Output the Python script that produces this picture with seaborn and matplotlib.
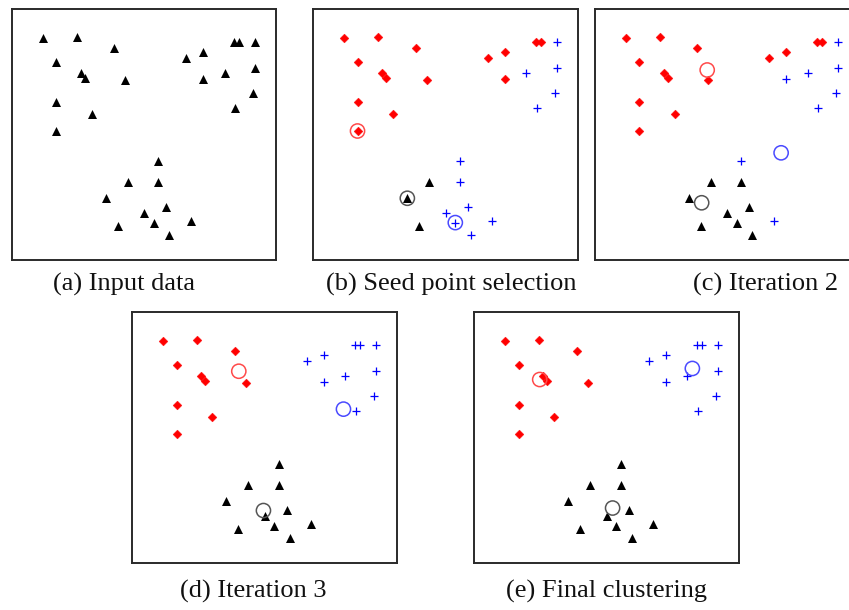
import pandas as pd
import seaborn as sns
import matplotlib.pyplot as plt

sns.set_style('white')
plt.rcParams['font.family'] = ['Liberation Serif', 'DejaVu Serif']

# the same 30 points in every panel (frame = 0..100 on both axes)
x_pts = [11.7, 24.6, 38.8, 16.8, 26.2, 27.5, 42.9, 16.8, 30.3, 16.8,
         66.0, 72.4, 84.2, 86.1, 92.1, 92.1, 80.5, 72.4, 91.2, 84.5,
         55.4, 43.8, 55.4, 35.6, 58.4, 50.1, 53.7, 40.0, 67.7, 59.5]
y_pts = [88.3, 89.0, 84.3, 79.0, 74.4, 72.4, 71.7, 63.1, 58.2, 51.4,
         80.3, 82.7, 87.0, 87.0, 87.0, 76.4, 74.4, 72.1, 66.4, 60.7,
         39.4, 31.2, 31.2, 24.6, 21.2, 18.9, 14.9, 13.5, 15.5, 9.8]

# cluster label of each point per panel (r = red, b = blue, k = black)
labels_a = list("kkkkkkkkkkkkkkkkkkkkkkkkkkkkkk")
labels_b = list("rrrrrrrrrrrrrrbbbrbbbkbkbbbkbb")
labels_c = list("rrrrrrrrrrrrrrbbbbbbbkkkkkkkbk")
labels_d = list("rrrrrrrrrrbbbbbbbbbbkkkkkkkkkk")
labels_e = list("rrrrrrrrrrbbbbbbbbbbkkkkkkkkkk")

# cluster centres (open circles)
centers_b = {'r': (16.8, 51.4), 'b': (53.7, 14.9), 'k': (35.6, 24.6)}
centers_c = {'r': (42.5, 75.7), 'b': (70.5, 42.7), 'k': (40.4, 22.8)}
centers_d = {'r': (40.3, 76.4), 'b': (79.8, 61.3), 'k': (49.6, 20.9)}
centers_e = {'r': (24.8, 73.1), 'b': (82.4, 77.5), 'k': (52.3, 21.9)}

titles = ['(a) Input data', '(b) Seed point selection', '(c) Iteration 2',
          '(d) Iteration 3', '(e) Final clustering']

W, H = 849, 610
fig = plt.figure(figsize=(W / 100, H / 100), dpi=100)

# panel boxes in pixels: left, top, width, height ; title centre x, y
panels = [
    (12, 9, 264, 251, labels_a, None, 124, 284),
    (313, 9, 265, 251, labels_b, centers_b, 451, 284),
    (595, 9, 264, 251, labels_c, centers_c, 766, 284),
    (132, 312, 265, 251, labels_d, centers_d, 253, 591),
    (474, 312, 265, 251, labels_e, centers_e, 606, 591),
]

point_style = {
    'r': dict(marker='D', color='#ff0000', s=20, linewidth=0.3, edgecolor='#ff0000'),
    'b': dict(marker='+', color='#0000ff', s=40, linewidth=0.9),
    'k': dict(marker='^', color='black', s=42, linewidth=0),
}
ring_color = {'r': '#ff4a4a', 'b': '#4a4aff', 'k': '#555555'}

for (l, t, w, h, labels, centers, tx, ty), title in zip(panels, titles):
    ax = fig.add_axes([l / W, 1 - (t + h) / H, w / W, h / H])
    df = pd.DataFrame({'x': x_pts, 'y': y_pts, 'cluster': labels})
    for c in ['r', 'b', 'k']:
        sub = df[df['cluster'] == c]
        if len(sub) == 0:
            continue
        sns.scatterplot(data=sub, x='x', y='y', ax=ax, legend=False, **point_style[c])
    if centers is not None:
        for c, (cx, cy) in centers.items():
            sns.scatterplot(x=[cx], y=[cy], ax=ax, marker='o', s=105,
                            facecolors='none', edgecolor=ring_color[c],
                            linewidth=1.1, legend=False, zorder=5)
    ax.set_xlim(0, 100)
    ax.set_ylim(0, 100)
    ax.set_xticks([])
    ax.set_yticks([])
    ax.set_xlabel('')
    ax.set_ylabel('')
    for sp in ax.spines.values():
        sp.set_visible(True)
        sp.set_color('#2a2a2a')
        sp.set_linewidth(1.4)
    fig.text(tx / W, 1 - ty / H, title, ha='center', va='center',
             fontsize=19, color='#111111')

fig.savefig('out.png', dpi=100)
